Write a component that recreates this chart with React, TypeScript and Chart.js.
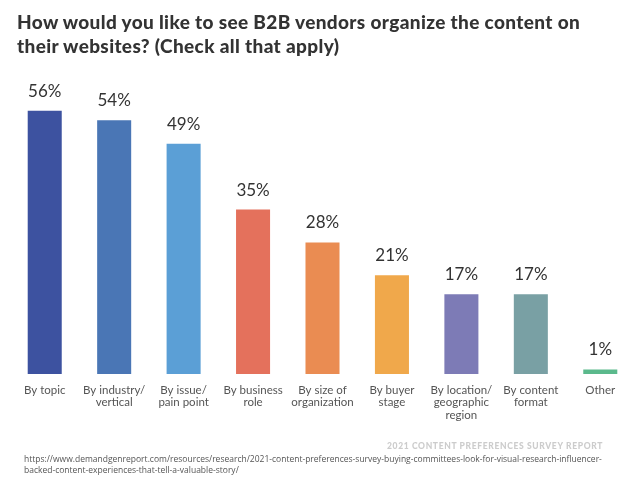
import React, { useEffect, useRef } from "react";
import { Chart, registerables } from "chart.js";

Chart.register(...registerables);

const categories: string[][] = [
  ["By topic"],
  ["By industry/", "vertical"],
  ["By issue/", "pain point"],
  ["By business", "role"],
  ["By size of", "organization"],
  ["By buyer", "stage"],
  ["By location/", "geographic", "region"],
  ["By content", "format"],
  ["Other"],
];
const values: number[] = [56, 54, 49, 35, 28, 21, 17, 17, 1];
const barColors: string[] = [
  "#3d52a0",
  "#4a76b5",
  "#5b9fd6",
  "#e4715c",
  "#ea8c52",
  "#f0a84b",
  "#7d7bb6",
  "#79a0a4",
  "#5bb98c",
];
const titleLines: string[] = [
  "How would you like to see B2B vendors organize the content on",
  "their websites? (Check all that apply)",
];
const reportLabel = "2021 CONTENT PREFERENCES SURVEY REPORT";
const sourceLines: string[] = [
  "https://www.demandgenreport.com/resources/research/2021-content-preferences-survey-buying-committees-look-for-visual-research-influencer-",
  "backed-content-experiences-that-tell-a-valuable-story/",
];

const valueLabelPlugin = {
  id: "valueLabels",
  afterDatasetsDraw(chart: any) {
    const ctx = chart.ctx;
    const meta = chart.getDatasetMeta(0);
    ctx.save();
    ctx.fillStyle = "#333333";
    ctx.font = "400 17px Lato";
    ctx.textAlign = "center";
    ctx.textBaseline = "alphabetic";
    meta.data.forEach((bar: any, i: number) => {
      ctx.fillText(values[i] + "%", bar.x, bar.y - 14);
    });
    ctx.restore();
  },
};

export default function App() {
  const canvasRef = useRef<HTMLCanvasElement | null>(null);

  useEffect(() => {
    if (!canvasRef.current) return;
    const chart = new Chart(canvasRef.current, {
      type: "bar",
      data: {
        labels: categories,
        datasets: [
          {
            data: values,
            backgroundColor: barColors,
            borderWidth: 0,
            barPercentage: 0.49,
            categoryPercentage: 1,
          },
        ],
      },
      options: {
        animation: false,
        responsive: false,
        layout: { padding: { top: 92, left: 10, right: 5, bottom: 53 } },
        plugins: {
          legend: { display: false },
          tooltip: { enabled: false },
          title: { display: false },
        },
        scales: {
          x: {
            grid: { display: false, drawTicks: false },
            border: { display: false },
            ticks: {
              color: "#555555",
              font: { family: "Lato", size: 11.5, lineHeight: 1.07 },
              padding: 10,
              maxRotation: 0,
              autoSkip: false,
            },
          },
          y: {
            display: false,
            min: 0,
            max: 60,
          },
        },
      },
      plugins: [valueLabelPlugin],
    });
    return () => chart.destroy();
  }, []);

  return (
    <div
      style={{
        position: "fixed",
        left: 0,
        top: 0,
        width: 640,
        height: 484,
        background: "#ffffff",
        overflow: "hidden",
      }}
    >
      <canvas ref={canvasRef} width={640} height={484} style={{ position: "absolute", left: 0, top: 0 }} />
      <div
        style={{
          position: "absolute",
          left: 17,
          top: 10,
          fontFamily: "Lato",
          fontWeight: 900,
          fontSize: 19,
          letterSpacing: "0.35px",
          lineHeight: "24px",
          color: "#333333",
          whiteSpace: "nowrap",
        }}
      >
        {titleLines.map((l, i) => (
          <div key={i}>{l}</div>
        ))}
      </div>
      <div
        style={{
          position: "absolute",
          right: 37,
          top: 441,
          fontFamily: "Lato",
          fontWeight: 900,
          fontSize: 8.5,
          letterSpacing: "0.65px",
          color: "#cccccc",
          whiteSpace: "nowrap",
        }}
      >
        {reportLabel}
      </div>
      <div
        style={{
          position: "absolute",
          left: 24,
          top: 454,
          fontFamily: "Open Sans",
          fontSize: 8.5,
          lineHeight: "10.5px",
          color: "#555555",
          whiteSpace: "nowrap",
        }}
      >
        {sourceLines.map((l, i) => (
          <div key={i}>{l}</div>
        ))}
      </div>
    </div>
  );
}
